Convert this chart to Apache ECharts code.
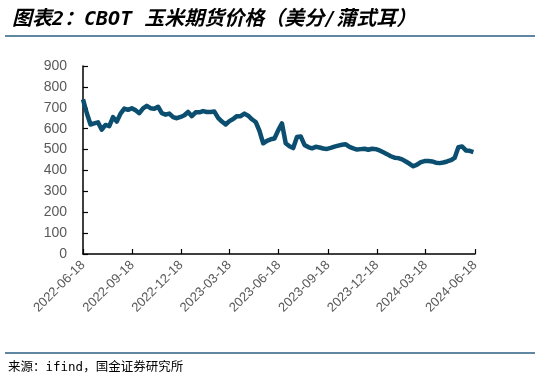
<!DOCTYPE html>
<html>
<head>
<meta charset="utf-8">
<script src="https://cdn.jsdelivr.net/npm/echarts@6/dist/echarts.min.js"></script>
<style>
html,body{margin:0;padding:0;background:#fff;}
#chart{width:540px;height:385px;}
</style>
</head>
<body>
<div id="chart"></div>
<script>
// Weekly series starting 2022-06-18
const startDate = '2022-06-18';
const prices = [
  740, 675, 620, 625, 630, 595, 618, 612, 655, 634,
  672, 696, 690, 698, 688, 674, 697, 709, 698, 695,
  705, 674, 667, 672, 655, 650, 656, 664, 680, 660,
  678, 678, 684, 680, 680, 682, 652, 634, 620, 636,
  646, 660, 660, 672, 662, 645, 632, 590, 530, 542,
  549, 553, 592, 625, 530, 516, 507, 560, 563, 522,
  512, 506, 513, 510, 505, 503, 508, 514, 519, 523,
  525, 513, 506, 500, 502, 504, 499, 504, 502, 496,
  487, 478, 468, 461, 459, 453, 443, 432, 420, 428,
  440, 445, 445, 443, 437, 435, 438, 443, 449, 460,
  511, 515, 496, 494, 488
];
const xTickLabels = ['2022-06-18','2022-09-18','2022-12-18','2023-03-18','2023-06-18','2023-09-18','2023-12-18','2024-03-18','2024-06-18'];
const yTicks = [0, 100, 200, 300, 400, 500, 600, 700, 800, 900];

const DAY = 864e5;
function utc(s){ const p = s.split('-').map(Number); return Date.UTC(p[0], p[1]-1, p[2]); }
function dayOffset(s){ return Math.round((utc(s) - utc(startDate)) / DAY); }
function fmt(off){ const d = new Date(utc(startDate) + off*DAY); const m = d.getUTCMonth()+1, dd = d.getUTCDate();
  return d.getUTCFullYear() + '-' + (m<10?'0':'') + m + '-' + (dd<10?'0':'') + dd; }

const seriesData = prices.map((v, i) => [7*i, v]);
const tickVals = xTickLabels.map(dayOffset);

const chart = echarts.init(document.getElementById('chart'), null, {renderer:'canvas'});
chart.setOption({
  animation: false,
  backgroundColor: '#fff',
  title: {
    text: '图表2：CBOT 玉米期货价格（美分/蒲式耳）',
    left: 7, top: 5,
    textStyle: {fontFamily: '"DejaVu Sans Mono", "Noto Sans CJK SC"', fontSize: 20, fontWeight: 'bold', fontStyle: 'italic', color: '#000'}
  },
  graphic: [
    {type:'line', shape:{x1:5, y1:36, x2:535, y2:36}, style:{stroke:'#2a5f82', lineWidth:1.5}},
    {type:'line', shape:{x1:5, y1:353, x2:535, y2:353}, style:{stroke:'#2a5f82', lineWidth:1.5}},
    {type:'text', left: 8, top: 361, style:{text:'来源：ifind，国金证券研究所', fontFamily:'"DejaVu Sans Mono", "Noto Sans CJK SC"', fontSize:12.5, fill:'#000'}}
  ],
  grid: {left: 83, right: 65, top: 66, bottom: 131, containLabel: false},
  xAxis: {
    type: 'value',
    min: tickVals[0], max: tickVals[tickVals.length-1],
    splitLine: {show:false},
    axisLine: {show:true, lineStyle:{color:'#000', width:1.5}},
    axisTick: {show:true, inside:true, length:5, customValues: tickVals, lineStyle:{color:'#000', width:1.2}},
    axisLabel: {customValues: tickVals, rotate: 45, color:'#595959', fontSize: 13, fontFamily:'Liberation Sans', margin: 9,
      formatter: v => fmt(v)}
  },
  yAxis: {
    type: 'value', min: yTicks[0], max: yTicks[yTicks.length-1], interval: 100,
    splitLine: {show:false},
    axisLine: {show:true, lineStyle:{color:'#000', width:1.5}},
    axisTick: {show:true, inside:true, length:5, lineStyle:{color:'#000', width:1.2}},
    axisLabel: {color:'#595959', fontSize: 14, fontFamily:'Liberation Sans', margin: 16}
  },
  series: [{
    type: 'line', data: seriesData, showSymbol: false, symbol: 'none',
    lineStyle: {color:'#0b4e70', width: 4.5, join:'round'}
  }]
});
</script>
</body>
</html>
